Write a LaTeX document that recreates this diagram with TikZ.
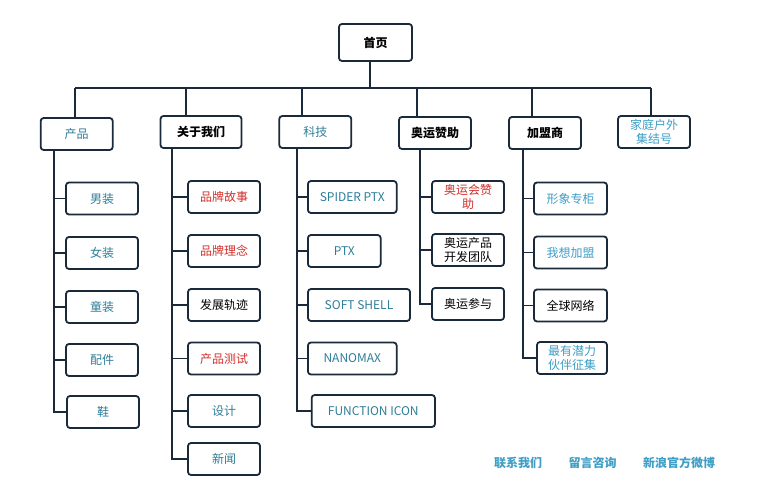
\documentclass[tikz,border=0pt]{standalone}
\usepackage{fontspec}
\setmainfont{Noto Sans CJK SC}
\usetikzlibrary{positioning}
\definecolor{linecol}{HTML}{1B2A3A}
\definecolor{tealtext}{HTML}{2E7D98}
\definecolor{bluetext}{HTML}{3E9EC6}
\definecolor{redtext}{HTML}{D0302C}
\tikzset{
        pagebox/.style={align=center,inner sep=0pt,rectangle,rounded corners=3pt,draw=linecol,line width=1.8pt,
            fill=white,minimum height=32pt,minimum width=72pt,font=\fontsize{12}{14}\selectfont},
        % Top level nodes
        box_main/.style={pagebox,font=\fontsize{12}{14}\selectfont\bfseries,text=black},
        % Link colours
        box_teal/.style={pagebox,text=tealtext},
        box_blue/.style={pagebox,text=bluetext},
        box_red/.style={pagebox,text=redtext},
        box_black/.style={pagebox,text=black},
        % Bottom links
        footlink/.style={inner sep=0pt,text=bluetext,font=\fontsize{12}{14}\selectfont\bfseries},
        tree/.style={draw=linecol,line width=1.8pt}
}
\begin{document}
\begin{tikzpicture}[x=1pt,y=-1pt]
    \useasboundingbox (0,0) rectangle (766,502);
    % Root
    \node[box_main,minimum width=73pt,minimum height=37pt] (home) at (375.5,42.5) {首页};
    % First level
    \node[box_teal,font=\fontsize{12}{14}\selectfont] (chanpin) at (76.7,134) {产品};
    \node[box_main,minimum width=81pt] (guanyu) at (201,132) {关于我们};
    \node[box_teal] (keji) at (315.3,132) {科技};
    \node[box_main] (aoyun) at (435,133) {奥运赞助};
    \node[box_main] (jiameng) at (545,133) {加盟商};
    \node[box_blue] (jiating) at (654,132) {家庭户外\\集结号};
    % Products
    \node[box_teal] (nanzhuang) at (102,198.5) {男装};
    \node[box_teal] (nvzhuang) at (102,253) {女装};
    \node[box_teal] (tongzhuang) at (102,307) {童装};
    \node[box_teal] (peijian) at (102,360) {配件};
    \node[box_teal] (xie) at (103,412) {鞋};
    % About us
    \node[box_red] (gushi) at (224,197) {品牌故事};
    \node[box_red] (linian) at (224,251) {品牌理念};
    \node[box_black] (guiji) at (224,305) {发展轨迹};
    \node[box_red] (ceshi) at (224,358.5) {产品测试};
    \node[box_teal] (sheji) at (224,411) {设计};
    \node[box_teal] (xinwen) at (224,459) {新闻};
    % Technology
    \node[box_teal,minimum width=88.7pt] (spider) at (352.3,197) {SPIDER PTX};
    \node[box_teal,minimum width=72.7pt] (ptx) at (344.3,251) {PTX};
    \node[box_teal,minimum width=102pt] (softshell) at (359,305) {SOFT SHELL};
    \node[box_teal,minimum width=88.7pt] (nanomax) at (352.3,358.5) {NANOMAX};
    \node[box_teal,minimum width=123.3pt] (funcicon) at (373.3,411) {FUNCTION ICON};
    % Olympics
    \node[box_red] (huizanzhu) at (468,197) {奥运会赞\\助};
    \node[box_black] (tuandui) at (468,250) {奥运产品\\开发团队};
    \node[box_black] (canyu) at (468,304) {奥运参与};
    % Franchise
    \node[box_blue,minimum width=73pt] (zhuangui) at (570.5,198.5) {形象专柜};
    \node[box_blue,minimum width=73pt] (xiangjia) at (570.5,252.5) {我想加盟};
    \node[box_black,minimum width=73pt] (wangluo) at (570.5,305.5) {全球网络};
    \node[box_blue,minimum width=70pt] (qianli) at (572,358) {最有潜力\\伙伴征集};
    % Footer
    \node[footlink] (lianxi) at (518,463) {联系我们};
    \node[footlink] (liuyan) at (592.5,463) {留言咨询};
    \node[footlink] (weibo) at (679,463) {新浪官方微博};

    % Connectors, top level
    \coordinate (bar) at (370,88);
    \coordinate (b1) at (75,88);
    \coordinate (b2) at (186,88);
    \coordinate (b3) at (302,88);
    \coordinate (b4) at (417,88);
    \coordinate (b5) at (531.7,88);
    \coordinate (b6) at (650.7,88);
    \draw[tree] (bar |- home.south) -- (bar);
    \draw[tree] (b1) -- (b6);
    \draw[tree] (b1) -- (b1 |- chanpin.north);
    \draw[tree] (b2) -- (b2 |- guanyu.north);
    \draw[tree] (b3) -- (b3 |- keji.north);
    \draw[tree] (b4) -- (b4 |- aoyun.north);
    \draw[tree] (b5) -- (b5 |- jiameng.north);
    \draw[tree] (b6) -- (b6 |- jiating.north);

    % Connectors, second level
    \coordinate (t1) at (54,150);
    \coordinate (t2) at (172,148);
    \coordinate (t3) at (296.7,148);
    \coordinate (t4) at (420,149);
    \coordinate (t5) at (523.3,149);
    \draw[tree] (t1) |- (nanzhuang.west);
    \draw[tree] (t1) |- (nvzhuang.west);
    \draw[tree] (t1) |- (tongzhuang.west);
    \draw[tree] (t1) |- (peijian.west);
    \draw[tree] (t1) |- (xie.west);
    \draw[tree] (t2) |- (gushi.west);
    \draw[tree] (t2) |- (linian.west);
    \draw[tree] (t2) |- (guiji.west);
    \draw[tree] (t2) |- (ceshi.west);
    \draw[tree] (t2) |- (sheji.west);
    \draw[tree] (t2) |- (xinwen.west);
    \draw[tree] (t3) |- (spider.west);
    \draw[tree] (t3) |- (ptx.west);
    \draw[tree] (t3) |- (softshell.west);
    \draw[tree] (t3) |- (nanomax.west);
    \draw[tree] (t3) |- (funcicon.west);
    \draw[tree] (t4) |- (huizanzhu.west);
    \draw[tree] (t4) |- (tuandui.west);
    \draw[tree] (t4) |- (canyu.west);
    \draw[tree] (t5) |- (zhuangui.west);
    \draw[tree] (t5) |- (xiangjia.west);
    \draw[tree] (t5) |- (wangluo.west);
    \draw[tree] (t5) |- (qianli.west);
\end{tikzpicture}
\end{document}
